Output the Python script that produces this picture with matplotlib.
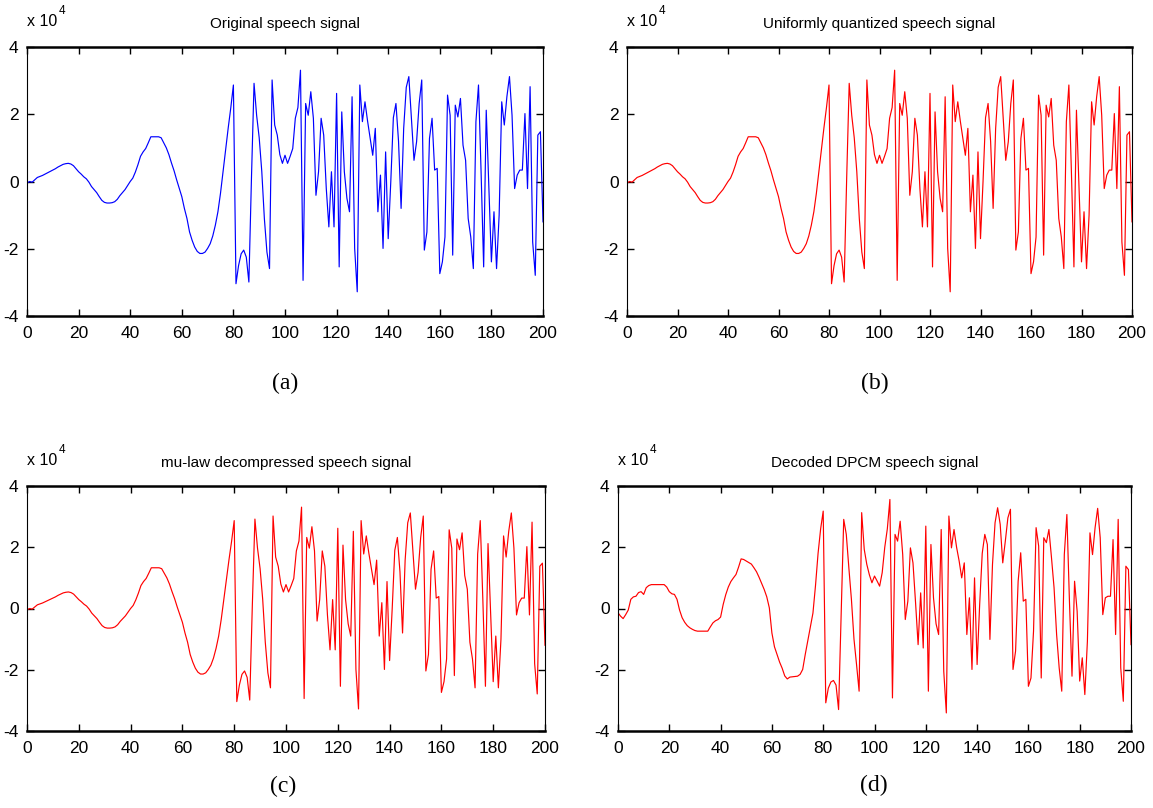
# four speech-signal panels, matlab look
import matplotlib
matplotlib.use('Agg')
import matplotlib.pyplot as plt
import numpy as np

plt.rcParams['font.family'] = ['Liberation Sans', 'DejaVu Sans']
plt.rcParams['axes.unicode_minus'] = False

# sample amplitudes, in units of 10^4
original = [
    -0.05, 0.0, -0.02, 0.05, 0.12, 0.15, 0.18, 0.22, 0.26, 0.3,
    0.34, 0.38, 0.43, 0.47, 0.51, 0.53, 0.54, 0.52, 0.47, 0.38,
    0.29, 0.22, 0.14, 0.08, -0.02, -0.15, -0.24, -0.33, -0.45, -0.56,
    -0.62, -0.64, -0.64, -0.63, -0.6, -0.53, -0.42, -0.33, -0.24, -0.12,
    0.0, 0.1, 0.28, 0.5, 0.75, 0.88, 0.98, 1.15, 1.33, 1.33,
    1.33, 1.33, 1.3, 1.15, 1.0, 0.8, 0.55, 0.32, 0.05, -0.2,
    -0.45, -0.8, -1.1, -1.5, -1.75, -1.95, -2.08, -2.14, -2.14, -2.1,
    -1.99, -1.85, -1.62, -1.3, -0.9, -0.35, 0.3, 0.95, 1.6, 2.2,
    2.87, -3.04, -2.5, -2.15, -2.04, -2.25, -2.99, 0.1, 2.92, 1.97,
    1.3, 0.3, -1.1, -2.1, -2.59, 3.02, 1.68, 1.38, 0.8, 0.54,
    0.78, 0.54, 0.75, 0.98, 1.88, 2.2, 3.31, -2.94, 2.32, 1.97,
    2.67, 1.88, -0.41, 0.29, 1.88, 1.38, -0.21, -1.35, 0.29, -1.35,
    2.62, -2.54, 2.07, 0.29, -0.5, -0.9, 2.52, -1.99, -3.28, 2.87,
    1.78, 2.37, 1.8, 1.28, 0.78, 1.58, -0.9, 0.19, -1.99, 0.88,
    -1.7, -0.01, 1.9, 2.32, 1.2, -0.8, 1.58, 2.8, 3.12, 1.88,
    0.63, 1.18, 2.32, 3.02, -2.04, -1.5, 1.28, 1.88, 0.34, 0.39,
    -2.74, -2.39, -1.65, 2.57, 1.97, -2.19, 2.27, 1.92, 2.47, 1.08,
    0.63, -1.1, -1.65, -2.59, 1.78, 2.87, 0.29, -2.54, 2.12, -0.11,
    -2.39, -0.9, -2.59, -1.0, 2.37, 1.68, 2.52, 3.12, 1.97, -0.21,
    0.19, 0.34, 0.34, 2.02, -0.21, 2.82, -1.8, -2.79, 1.38, 1.48,
    -1.2,
]

# the quantized and mu-law versions look the same as the original at this scale
uniform_q = list(original)
mulaw = list(original)

dpcm = [
    -0.14, -0.25, -0.33, -0.2, -0.05, 0.3, 0.38, 0.4, 0.52, 0.55,
    0.46, 0.68, 0.75, 0.78, 0.78, 0.78, 0.78, 0.78, 0.78, 0.7,
    0.55, 0.48, 0.46, 0.3, -0.05, -0.3, -0.45, -0.56, -0.63, -0.68,
    -0.72, -0.74, -0.74, -0.74, -0.74, -0.74, -0.6, -0.47, -0.4, -0.36,
    -0.28, 0.13, 0.45, 0.7, 0.88, 1.0, 1.11, 1.35, 1.62, 1.6,
    1.55, 1.5, 1.45, 1.33, 1.2, 1.02, 0.82, 0.62, 0.38, 0.02,
    -0.8, -1.25, -1.5, -1.75, -1.95, -2.2, -2.3, -2.24, -2.23, -2.22,
    -2.21, -2.15, -1.99, -1.5, -1.05, -0.6, -0.15, 0.75, 1.8, 2.6,
    3.18, -3.08, -2.6, -2.4, -2.35, -2.5, -3.3, -0.2, 2.91, 2.42,
    1.33, 0.3, -1.0, -1.83, -2.7, 3.13, 1.93, 1.44, 1.1, 0.84,
    1.06, 0.9, 0.73, 1.17, 2.0, 2.6, 3.56, -2.92, 2.42, 2.2,
    2.85, 1.76, -0.36, 0.24, 1.98, 1.49, 0.2, -1.18, 0.51, -1.29,
    2.69, -2.7, 2.09, 0.35, -0.5, -0.85, 2.58, -2.05, -3.41, 3.02,
    1.98, 2.58, 2.0, 1.55, 1.0, 1.49, -0.85, 0.35, -1.99, 1.0,
    -1.83, 0.13, 1.8, 2.42, 2.09, -1.01, 1.44, 2.8, 3.29, 2.75,
    1.49, 2.2, 2.96, 3.24, -1.99, -1.39, 0.89, 1.82, 0.24, 0.3,
    -2.54, -2.27, -0.74, 2.64, 2.04, -2.27, 2.31, 2.15, 2.58, 1.66,
    0.68, -0.85, -1.94, -2.7, 1.76, 3.07, 0.24, -2.21, 0.89, -0.09,
    -2.37, -1.61, -2.81, -1.07, 2.47, 1.76, 2.64, 3.27, 2.31, -0.2,
    0.35, 0.4, 0.4, 2.25, -0.85, 2.91, -1.94, -3.03, 1.38, 1.27,
    -1.18,
]

titles = ['Original speech signal', 'Uniformly quantized speech signal',
          'mu-law decompressed speech signal', 'Decoded DPCM speech signal']
tags = ['(a)', '(b)', '(c)', '(d)']
colors = ['blue', 'red', 'red', 'red']
signals = [original, uniform_q, mulaw, dpcm]
xticks = list(range(0, 201, 20))
yticks = [-4, -2, 0, 2, 4]

W, H = 1153, 808
fig = plt.figure(figsize=(W / 100, H / 100), dpi=100)

# axes boxes in pixels: left, top, right, bottom
boxes = [(27, 47, 543, 316), (627, 47, 1132, 316),
         (27, 486, 545, 731), (618, 486, 1131, 731)]
# where the (a)..(d) tags sit, pixel centres
tag_pos = [(285, 383), (875, 383), (283, 786), (874, 785)]

for i in range(4):
    l, t, r, b = boxes[i]
    ax = fig.add_axes([l / W, 1 - b / H, (r - l) / W, (b - t) / H])
    n = np.arange(len(signals[i]))
    ax.plot(n, signals[i], color=colors[i], lw=0.85)
    ax.set_xlim(0, 200)
    ax.set_ylim(-4, 4)
    ax.set_xticks(xticks)
    ax.set_yticks(yticks)
    ax.tick_params(direction='in', length=5, width=1, top=True, right=True,
                   labelsize=12.5)
    ax.tick_params(axis='x', pad=7)
    ax.tick_params(axis='y', pad=6)
    for s in ['top', 'bottom']:
        ax.spines[s].set_linewidth(1.8)
    for s in ['left', 'right']:
        ax.spines[s].set_linewidth(0.8)
    ax.set_title(titles[i], fontsize=11, pad=14)
    hpx = b - t
    ax.text(0.0, 1 + 21 / hpx, 'x 10', transform=ax.transAxes, fontsize=11.5,
            ha='left', va='baseline')
    ax.text(32 / (r - l), 1 + 33 / hpx, '4', transform=ax.transAxes,
            fontsize=8.5, ha='left', va='baseline')
    fig.text(tag_pos[i][0] / W, 1 - tag_pos[i][1] / H, tags[i],
             family='Liberation Serif', fontsize=17, ha='center', va='center')

fig.savefig('out.png', dpi=100)
